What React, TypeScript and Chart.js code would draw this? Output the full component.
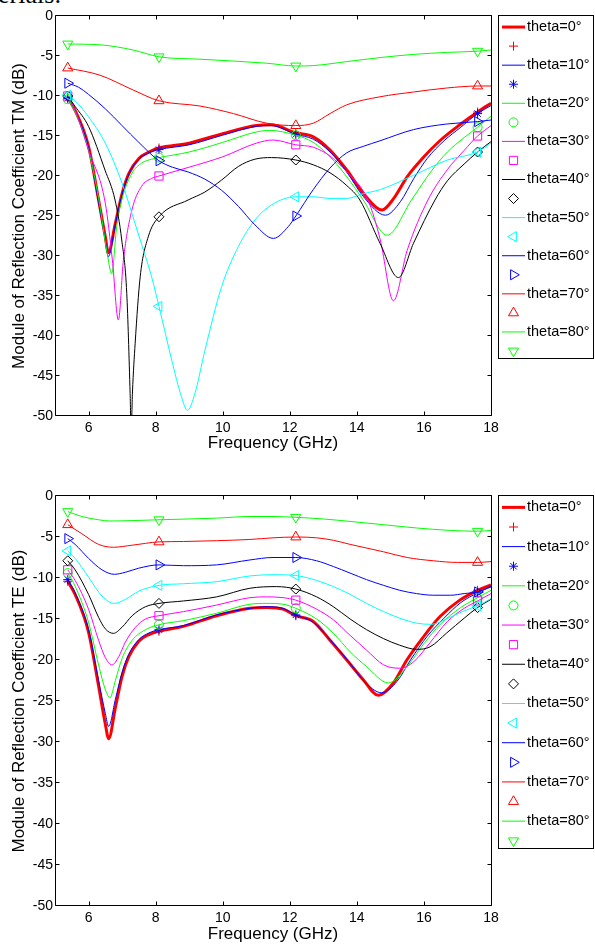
import React, { useEffect, useRef } from 'react';
import { Chart, registerables } from 'chart.js';
import { drawPoint } from 'chart.js/helpers';

Chart.register(...registerables);

type Pt = [number, number];

// Axis ticks
const FREQ_TICKS = [6, 8, 10, 12, 14, 16, 18];
const DB_TICKS = [0, -5, -10, -15, -20, -25, -30, -35, -40, -45, -50];
// Frequencies where the markers sit
const MARKER_FREQS = [5.38, 8.1, 12.18, 17.6];
const ANGLE_LABELS = [
  'theta=0°', 'theta=10°', 'theta=20°', 'theta=30°', 'theta=40°',
  'theta=50°', 'theta=60°', 'theta=70°', 'theta=80°',
];

// TM polarisation: [frequency GHz, |S11| dB]
const TM_0: Pt[] = [[5.38,-10.2],[5.6,-11.8],[6.0,-16.3],[6.3,-23.0],[6.5,-27.6],[6.59,-29.6],[6.8,-25.9],[7.0,-22.2],[7.2,-19.7],[7.5,-17.8],[7.8,-17.0],[8.1,-16.5],[9.0,-15.9],[10.0,-14.7],[11.0,-13.7],[11.45,-13.6],[12.18,-14.6],[12.7,-15.1],[13.2,-16.75],[13.7,-19.25],[14.2,-22.2],[14.75,-24.25],[15.1,-22.8],[15.5,-20.1],[16.0,-17.6],[16.5,-15.5],[17.07,-13.6],[17.6,-12.0],[18,-10.9]];
const TM_10: Pt[] = [[5.38,-10.3],[5.6,-11.9],[6.0,-16.5],[6.3,-23.3],[6.5,-28.0],[6.59,-30.1],[6.8,-26.0],[7.0,-22.3],[7.2,-19.8],[7.5,-17.9],[7.8,-17.1],[8.1,-16.7],[9.0,-16.1],[10.0,-14.9],[11.0,-13.8],[11.45,-13.7],[12.18,-14.8],[12.7,-15.4],[13.2,-17.0],[13.7,-19.5],[14.2,-22.6],[14.85,-24.9],[15.3,-23.2],[15.7,-20.3],[16.1,-17.8],[16.6,-15.6],[17.1,-13.9],[17.6,-12.2],[18,-11.2]];
const TM_20: Pt[] = [[5.38,-10.4],[5.6,-12.0],[6.0,-16.8],[6.3,-22.8],[6.55,-29.5],[6.69,-32.2],[6.84,-26.3],[6.99,-23.0],[7.29,-19.7],[7.58,-18.4],[7.88,-17.9],[8.1,-17.7],[9.0,-17.0],[10.0,-15.8],[11.0,-14.5],[11.4,-14.3],[12.18,-14.9],[12.7,-15.8],[13.2,-17.6],[13.7,-20.1],[14.19,-23.0],[14.9,-27.4],[15.63,-23.0],[16.2,-19.5],[16.7,-17.0],[17.2,-15.2],[17.6,-13.9],[18,-12.5]];
const TM_30: Pt[] = [[5.38,-10.0],[5.6,-11.8],[6.0,-16.8],[6.5,-23.4],[6.71,-30.5],[6.89,-38.0],[7.04,-30.5],[7.29,-24.3],[7.58,-21.3],[7.88,-20.3],[8.1,-20.0],[9.0,-18.9],[10.0,-17.6],[11.0,-15.9],[11.5,-15.5],[12.18,-16.1],[12.7,-16.4],[13.2,-17.5],[13.7,-19.5],[14.33,-23.0],[14.7,-28.0],[15.09,-35.6],[15.5,-29.3],[16.12,-23.0],[16.7,-19.2],[17.2,-16.8],[17.6,-15.0],[18,-13.7]];
const TM_40: Pt[] = [[5.38,-10.0],[5.6,-11.3],[6.0,-13.8],[6.49,-19.25],[6.79,-23.0],[6.99,-28.0],[7.14,-34.7],[7.24,-47.2],[7.27,-52.0],[7.31,-47.0],[7.39,-40.9],[7.54,-32.6],[7.78,-27.6],[8.1,-25.1],[8.97,-23.0],[9.47,-22.0],[9.97,-20.5],[10.47,-18.8],[10.96,-17.9],[11.46,-17.7],[12.18,-18.0],[12.7,-18.6],[13.2,-19.6],[13.7,-21.2],[14.09,-23.0],[14.69,-28.4],[15.24,-32.7],[15.69,-28.4],[16.33,-23.0],[16.7,-20.6],[17.2,-18.5],[17.6,-17.0],[18,-15.7]];
const TM_50: Pt[] = [[5.38,-9.9],[5.6,-10.6],[6.0,-12.6],[6.5,-15.9],[7.0,-20.9],[7.48,-27.2],[7.88,-32.6],[8.1,-36.3],[8.48,-43.0],[8.77,-47.6],[8.95,-49.3],[9.17,-47.2],[9.47,-41.8],[9.97,-33.8],[10.47,-28.8],[10.96,-25.5],[11.46,-23.6],[12.18,-22.6],[12.7,-22.6],[13.2,-22.8],[13.7,-22.8],[14.2,-22.2],[14.7,-21.7],[15.7,-19.9],[16.7,-18.0],[17.6,-17.0],[18,-15.9]];
const TM_60: Pt[] = [[5.38,-8.4],[5.7,-8.9],[6.0,-9.8],[6.5,-11.6],[7.0,-13.7],[7.5,-15.8],[8.1,-18.1],[8.5,-18.9],[8.97,-19.5],[9.47,-20.4],[9.97,-21.8],[10.47,-23.8],[10.96,-26.1],[11.51,-27.8],[11.96,-26.3],[12.18,-25.0],[12.7,-21.7],[13.2,-19.0],[13.7,-17.1],[14.19,-16.3],[14.69,-15.6],[15.69,-14.2],[16.68,-13.5],[17.6,-13.2],[18,-13.0]];
const TM_70: Pt[] = [[5.38,-6.5],[6.34,-7.4],[7.33,-9.25],[8.1,-10.6],[9.32,-11.25],[10.32,-12.2],[11.31,-13.4],[12.18,-13.7],[12.7,-13.4],[13.2,-12.2],[13.7,-11.1],[14.69,-10.1],[15.69,-9.5],[16.68,-9.0],[17.6,-8.75],[18,-8.75]];
const TM_80: Pt[] = [[5.38,-3.5],[6.34,-3.6],[7.33,-4.25],[8.1,-5.1],[9.32,-5.4],[11.31,-5.9],[12.18,-6.25],[12.7,-6.2],[13.7,-5.7],[14.69,-5.2],[15.69,-4.8],[16.68,-4.55],[17.6,-4.4],[18,-4.25]];

// TE polarisation: [frequency GHz, |S11| dB]
const TE_0: Pt[] = [[5.38,-10.4],[5.6,-12.0],[6.0,-16.6],[6.3,-23.2],[6.5,-27.8],[6.6,-29.6],[6.8,-25.8],[7.0,-22.0],[7.2,-19.6],[7.5,-17.7],[7.8,-16.9],[8.1,-16.5],[8.83,-15.9],[9.82,-14.6],[10.81,-13.7],[11.31,-13.6],[11.8,-13.8],[12.18,-14.6],[12.7,-15.3],[13.2,-17.6],[13.7,-20.0],[14.19,-22.4],[14.64,-24.3],[15.09,-22.8],[15.49,-20.0],[15.98,-17.2],[16.48,-14.7],[17.07,-12.7],[17.6,-11.5],[18,-10.85]];
const TE_10: Pt[] = [[5.38,-10.2],[5.6,-11.8],[6.0,-16.3],[6.3,-22.5],[6.5,-26.5],[6.6,-28.1],[6.8,-24.8],[7.0,-21.5],[7.2,-19.3],[7.5,-17.5],[7.8,-16.7],[8.1,-16.3],[8.83,-15.8],[9.82,-14.5],[10.81,-13.7],[11.31,-13.5],[11.8,-13.7],[12.18,-14.5],[12.7,-15.4],[13.2,-17.5],[13.7,-19.9],[14.29,-22.9],[14.74,-24.0],[15.2,-22.6],[15.6,-20.0],[16.1,-17.1],[16.6,-14.9],[17.1,-13.0],[17.6,-11.8],[18,-11.0]];
const TE_20: Pt[] = [[5.38,-9.4],[5.6,-11.0],[6.0,-15.4],[6.3,-20.6],[6.5,-23.6],[6.64,-24.6],[6.8,-22.5],[7.0,-19.8],[7.3,-17.6],[7.7,-16.3],[8.1,-15.7],[8.83,-15.2],[9.82,-14.3],[10.81,-13.2],[11.31,-13.1],[11.8,-13.2],[12.18,-13.7],[12.8,-15.0],[13.3,-16.75],[13.8,-19.0],[14.29,-20.8],[14.94,-22.8],[15.5,-20.8],[16.0,-18.0],[16.5,-15.6],[17.1,-13.6],[17.6,-12.4],[18,-11.5]];
const TE_30: Pt[] = [[5.38,-9.0],[5.6,-10.3],[6.0,-13.8],[6.3,-17.6],[6.5,-19.7],[6.7,-20.6],[6.9,-19.6],[7.1,-17.8],[7.4,-16.0],[7.7,-15.0],[8.1,-14.6],[8.83,-14.1],[9.82,-13.3],[10.81,-12.4],[11.31,-12.3],[11.8,-12.4],[12.18,-12.7],[12.8,-13.8],[13.3,-15.1],[13.8,-17.0],[14.29,-18.8],[14.8,-20.6],[15.29,-21.0],[15.7,-20.2],[16.18,-17.9],[16.7,-15.3],[17.2,-13.7],[17.6,-12.8],[18,-11.9]];
const TE_40: Pt[] = [[5.38,-7.9],[5.6,-9.0],[6.0,-12.0],[6.3,-14.8],[6.5,-16.2],[6.74,-16.75],[7.0,-16.0],[7.3,-14.6],[7.7,-13.5],[8.1,-13.1],[8.83,-12.8],[9.82,-12.3],[10.81,-11.25],[11.61,-11.05],[12.18,-11.35],[12.8,-12.3],[13.3,-13.5],[13.8,-15.0],[14.29,-16.3],[14.8,-17.4],[15.28,-18.2],[15.78,-18.7],[16.18,-18.4],[16.68,-16.7],[17.2,-14.9],[17.6,-13.6],[18,-12.6]];
const TE_50: Pt[] = [[5.38,-6.7],[5.6,-7.6],[6.0,-9.9],[6.4,-12.2],[6.77,-13.1],[7.1,-12.6],[7.5,-11.6],[8.1,-10.9],[8.83,-10.7],[9.82,-10.45],[10.81,-9.75],[11.5,-9.6],[12.18,-9.7],[12.8,-10.3],[13.3,-11.05],[13.8,-12.0],[14.29,-13.1],[14.8,-14.1],[15.28,-14.9],[15.78,-15.5],[16.2,-15.65],[16.78,-14.8],[17.2,-14.0],[17.6,-13.4],[18,-12.5]];
const TE_60: Pt[] = [[5.38,-5.2],[5.6,-5.9],[6.0,-7.6],[6.4,-9.0],[6.77,-9.55],[7.1,-9.3],[7.5,-8.8],[8.1,-8.4],[8.83,-8.5],[9.82,-8.4],[10.81,-7.8],[11.5,-7.5],[12.18,-7.5],[12.8,-7.9],[13.3,-8.6],[13.8,-9.4],[14.29,-10.2],[14.8,-10.9],[15.28,-11.5],[15.78,-11.9],[16.28,-12.1],[16.8,-12.1],[17.2,-11.9],[17.6,-11.7],[18,-11.1]];
const TE_70: Pt[] = [[5.38,-3.5],[5.8,-4.6],[6.3,-5.9],[6.74,-6.25],[7.3,-6.0],[8.1,-5.6],[8.83,-5.55],[9.82,-5.45],[10.81,-5.3],[11.5,-5.1],[12.18,-5.0],[12.8,-5.1],[13.3,-5.4],[13.8,-5.9],[14.79,-6.8],[15.5,-7.5],[16.28,-7.9],[17.0,-8.1],[17.6,-8.1],[18,-8.0]];
const TE_80: Pt[] = [[5.38,-1.9],[5.8,-2.5],[6.3,-2.9],[6.64,-3.05],[7.3,-3.0],[8.1,-2.9],[9.0,-2.8],[9.82,-2.7],[10.81,-2.5],[11.5,-2.5],[12.18,-2.6],[13.0,-2.8],[13.8,-3.1],[14.8,-3.5],[15.78,-3.9],[16.8,-4.2],[17.6,-4.3],[18,-4.2]];

const TM_CURVES = [TM_0, TM_10, TM_20, TM_30, TM_40, TM_50, TM_60, TM_70, TM_80];
const TE_CURVES = [TE_0, TE_10, TE_20, TE_30, TE_40, TE_50, TE_60, TE_70, TE_80];

type Style = { color: string; width: number; marker: string; radius: number; rotation: number };

const STYLES: Style[] = [
  { color: '#ff0000', width: 3, marker: 'cross', radius: 4.5, rotation: 0 },
  { color: '#0000ff', width: 1, marker: 'star', radius: 4.5, rotation: 0 },
  { color: '#00ff00', width: 1, marker: 'circle', radius: 4.5, rotation: 0 },
  { color: '#ff00ff', width: 1, marker: 'rect', radius: 5.8, rotation: 0 },
  { color: '#000000', width: 1, marker: 'rectRot', radius: 5, rotation: 0 },
  { color: '#00ffff', width: 1, marker: 'triangle', radius: 5.8, rotation: -90 },
  { color: '#0000ff', width: 1, marker: 'triangle', radius: 5.8, rotation: 90 },
  { color: '#ff0000', width: 1, marker: 'triangle', radius: 5.8, rotation: 0 },
  { color: '#00ff00', width: 1, marker: 'triangle', radius: 5.8, rotation: 180 },
];

const FONT = '"Liberation Sans", Arial, Helvetica, sans-serif';
Chart.defaults.font.family = FONT;
Chart.defaults.color = '#000';

function buildDatasets(curves: Pt[][]) {
  const sets: any[] = [];
  curves.forEach((curve, i) => {
    const st = STYLES[i];
    sets.push({
      label: ANGLE_LABELS[i],
      data: curve.map(([x, y]) => ({ x, y })),
      borderColor: st.color,
      borderWidth: st.width,
      pointRadius: 0,
      cubicInterpolationMode: 'monotone',
      fill: false,
      order: 100 - 2 * i,
    });
    sets.push({
      label: '',
      data: MARKER_FREQS.map((f) => {
        const p = curve.find((q) => q[0] === f) as Pt;
        return { x: f, y: p[1] };
      }),
      showLine: false,
      pointStyle: st.marker,
      pointRadius: st.radius,
      pointRotation: st.rotation,
      pointBorderColor: st.color,
      pointBackgroundColor: 'rgba(0,0,0,0)',
      pointBorderWidth: 1,
      order: 99 - 2 * i,
    });
  });
  return sets;
}

// Box around the plot area with inward ticks on all four sides
const framePlugin = {
  id: 'axesFrame',
  afterDraw(chart: any) {
    const { ctx, chartArea, scales } = chart;
    const { left, right, top, bottom } = chartArea;
    const L = Math.round(left) + 0.5;
    const R = Math.round(right) + 0.5;
    const T = Math.round(top) - 0.5;
    const B = Math.round(bottom) - 0.5;
    ctx.save();
    ctx.strokeStyle = '#000';
    ctx.lineWidth = 1;
    ctx.beginPath();
    ctx.rect(L, T, R - L, B - T);
    const len = 4;
    FREQ_TICKS.forEach((v) => {
      const px = Math.round(scales.x.getPixelForValue(v)) + 0.5;
      ctx.moveTo(px, B);
      ctx.lineTo(px, B - len);
      ctx.moveTo(px, T);
      ctx.lineTo(px, T + len);
    });
    DB_TICKS.forEach((v) => {
      const py = Math.round(scales.y.getPixelForValue(v)) - 0.5;
      ctx.moveTo(L, py);
      ctx.lineTo(L + len, py);
      ctx.moveTo(R, py);
      ctx.lineTo(R - len, py);
    });
    ctx.stroke();
    ctx.restore();
  },
};

// Legend: one row with line and name, one row with the marker, per angle
const anglePlugin = {
  id: 'angleLegend',
  afterDraw(chart: any, _args: any, opts: any) {
    const { ctx, chartArea } = chart;
    const boxL = Math.round(chartArea.right) + 7;
    const boxR = 593;
    const boxT = Math.round(chartArea.top);
    const boxH = opts.height as number;
    const rowH = boxH / 18;
    ctx.save();
    ctx.fillStyle = '#fff';
    ctx.fillRect(boxL, boxT, boxR - boxL, boxH);
    ctx.strokeStyle = '#000';
    ctx.lineWidth = 1;
    ctx.strokeRect(boxL + 0.5, boxT - 0.5, boxR - boxL, boxH);
    ANGLE_LABELS.forEach((label, i) => {
      const st = STYLES[i];
      const yLine = boxT + rowH * (2 * i + 0.58);
      const yMark = boxT + rowH * (2 * i + 1.58);
      ctx.strokeStyle = st.color;
      ctx.lineWidth = st.width;
      ctx.beginPath();
      ctx.moveTo(boxL + 4, yLine);
      ctx.lineTo(boxL + 27, yLine);
      ctx.stroke();
      ctx.fillStyle = '#000';
      ctx.font = `14.5px ${FONT}`;
      ctx.textBaseline = 'middle';
      ctx.textAlign = 'left';
      ctx.fillText(label, boxL + 29, yLine);
      ctx.strokeStyle = st.color;
      ctx.fillStyle = 'rgba(0,0,0,0)';
      ctx.lineWidth = 1;
      drawPoint(ctx, { pointStyle: st.marker as any, rotation: st.rotation, radius: st.radius, borderWidth: 1 }, boxL + 15.5, yMark);
    });
    ctx.restore();
  },
};

type Frame = { padTop: number; axisH: number; titlePad: number; legendH: number };

function makeChart(canvas: HTMLCanvasElement, curves: Pt[][], yTitle: string, f: Frame) {
  return new Chart(canvas, {
    type: 'line',
    data: { datasets: buildDatasets(curves) },
    plugins: [framePlugin, anglePlugin],
    options: {
      animation: false,
      responsive: false,
      devicePixelRatio: 1,
      events: [],
      layout: { padding: { top: f.padTop, right: 104, bottom: 0, left: 0 } },
      plugins: {
        legend: { display: false },
        tooltip: { enabled: false },
        angleLegend: { height: f.legendH },
      } as any,
      scales: {
        x: {
          type: 'linear',
          min: 5,
          max: 18,
          grid: { display: false, drawTicks: false },
          border: { display: false },
          afterBuildTicks: (s: any) => {
            s.ticks = FREQ_TICKS.map((value) => ({ value }));
          },
          afterFit: (s: any) => {
            s.height = f.axisH;
          },
          ticks: {
            padding: 4,
            maxRotation: 0,
            font: { size: 14 },
            color: '#000',
            callback: (v: any) => String(v),
          },
          title: {
            display: true,
            text: 'Frequency (GHz)',
            font: { size: 17 },
            color: '#000',
            padding: { top: 0, bottom: f.titlePad },
          },
        },
        y: {
          type: 'linear',
          min: -50,
          max: 0,
          grid: { display: false, drawTicks: false },
          border: { display: false },
          afterBuildTicks: (s: any) => {
            s.ticks = DB_TICKS.map((value) => ({ value }));
          },
          afterFit: (s: any) => {
            s.width = 55;
          },
          ticks: {
            padding: 2,
            font: { size: 14 },
            color: '#000',
            callback: (v: any) => String(v),
          },
          title: {
            display: true,
            text: yTitle,
            font: { size: 17 },
            color: '#000',
            padding: { top: 9, bottom: 0 },
          },
        },
      },
    } as any,
  });
}

export default function App() {
  const tmRef = useRef<HTMLCanvasElement>(null);
  const teRef = useRef<HTMLCanvasElement>(null);

  useEffect(() => {
    const tm = makeChart(tmRef.current!, TM_CURVES, 'Module of Reflection Coefficient TM (dB)', {
      padTop: 16, axisH: 56, titlePad: 18.8, legendH: 343,
    });
    const te = makeChart(teRef.current!, TE_CURVES, 'Module of Reflection Coefficient TE (dB)', {
      padTop: 24, axisH: 39, titlePad: 0.8, legendH: 353,
    });
    return () => {
      tm.destroy();
      te.destroy();
    };
  }, []);

  return (
    <div style={{ position: 'absolute', left: 0, top: 0, width: 595, height: 945, overflow: 'hidden', background: '#fff' }}>
      <div
        style={{
          position: 'absolute', left: -2, top: -18.5, margin: 0,
          font: '26px "Liberation Serif", "Times New Roman", serif', lineHeight: '26px', color: '#000', whiteSpace: 'nowrap',
        }}
      >
        erials:
      </div>
      <canvas ref={tmRef} width={595} height={472} style={{ position: 'absolute', left: 0, top: 0 }} />
      <canvas ref={teRef} width={595} height={473} style={{ position: 'absolute', left: 0, top: 472 }} />
    </div>
  );
}
